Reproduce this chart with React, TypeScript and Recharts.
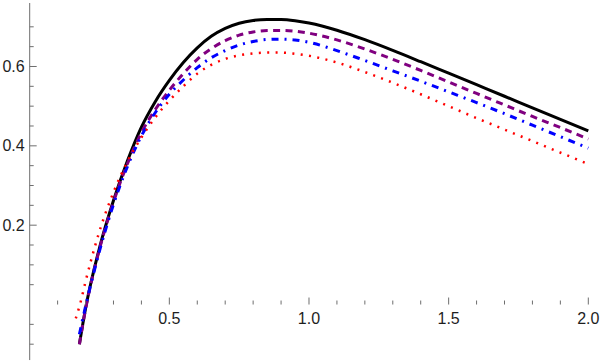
import React from "react";
import { LineChart, Line, XAxis, YAxis, ReferenceLine, ReferenceDot } from "recharts";

// ---- data ----
const blackX = [0.178, 0.2, 0.25, 0.3, 0.35, 0.4, 0.45, 0.5, 0.55, 0.6, 0.65, 0.7, 0.75, 0.8, 0.85, 0.9, 0.95, 1.0, 1.1, 1.2, 1.3, 1.4, 1.5, 1.6, 1.7, 1.8, 1.9, 2.0];
const blackY = [-0.1, -0.01, 0.143, 0.262, 0.362, 0.447, 0.512, 0.565, 0.61, 0.647, 0.676, 0.696, 0.709, 0.716, 0.7185, 0.7185, 0.7155, 0.7095, 0.6915, 0.6675, 0.6405, 0.612, 0.583, 0.554, 0.525, 0.4955, 0.4665, 0.4375];

const purpleX = [0.178, 0.2, 0.25, 0.3, 0.35, 0.4, 0.45, 0.5, 0.55, 0.6, 0.65, 0.7, 0.75, 0.8, 0.85, 0.9, 0.95, 1.0, 1.1, 1.2, 1.3, 1.4, 1.5, 1.6, 1.7, 1.8, 1.9, 2.0];
const purpleY = [-0.1, -0.012, 0.14, 0.258, 0.355, 0.433, 0.492, 0.54, 0.582, 0.618, 0.645, 0.665, 0.679, 0.687, 0.6905, 0.691, 0.689, 0.684, 0.667, 0.644, 0.618, 0.59, 0.561, 0.532, 0.503, 0.474, 0.446, 0.417];

const blueX = [0.178, 0.2, 0.25, 0.3, 0.35, 0.4, 0.45, 0.5, 0.55, 0.6, 0.65, 0.7, 0.75, 0.8, 0.85, 0.9, 0.95, 1.0, 1.1, 1.2, 1.3, 1.4, 1.5, 1.6, 1.7, 1.8, 1.9, 2.0];
const blueY = [-0.075, -0.005, 0.135, 0.252, 0.348, 0.425, 0.484, 0.53, 0.566, 0.597, 0.622, 0.64, 0.654, 0.663, 0.668, 0.669, 0.667, 0.661, 0.64, 0.615, 0.589, 0.563, 0.536, 0.509, 0.481, 0.452, 0.423, 0.394];

const redX = [0.165, 0.18, 0.2, 0.25, 0.3, 0.35, 0.4, 0.45, 0.5, 0.55, 0.6, 0.65, 0.7, 0.75, 0.8, 0.85, 0.9, 0.95, 1.0, 1.1, 1.2, 1.3, 1.4, 1.5, 1.6, 1.7, 1.8, 1.9, 2.0];
const redY = [-0.035, 0.0, 0.058, 0.185, 0.283, 0.36, 0.421, 0.472, 0.514, 0.55, 0.582, 0.604, 0.619, 0.628, 0.633, 0.635, 0.635, 0.632, 0.627, 0.61, 0.586, 0.559, 0.53, 0.5, 0.47, 0.441, 0.412, 0.383, 0.354];

const xMajorTicks = [0.5, 1.0, 1.5, 2.0];
const xMajorLabels = ["0.5", "1.0", "1.5", "2.0"];
const xMinorTicks = [0.1, 0.2, 0.3, 0.4, 0.6, 0.7, 0.8, 0.9, 1.1, 1.2, 1.3, 1.4, 1.6, 1.7, 1.8, 1.9];
const yMajorTicks = [0.2, 0.4, 0.6];
const yMajorLabels = ["0.2", "0.4", "0.6"];
const yMinorTicks = [-0.1, -0.05, 0.05, 0.1, 0.15, 0.25, 0.3, 0.35, 0.45, 0.5, 0.55, 0.65, 0.7];

const build = (xs: number[], ys: number[]) => xs.map((x, i) => ({ x, y: ys[i] }));

const AXIS = "#6e6e6e";
const TXT = "#1e1e1e";
const FONT = "Liberation Sans, Arial, sans-serif";

const xTick = (len: number, label?: string) => (p: any) => (
  <g>
    <line x1={p.cx} y1={p.cy} x2={p.cx} y2={p.cy - len} stroke={AXIS} strokeWidth={1} />
    {label ? (
      <text x={p.cx} y={p.cy + 19.5} textAnchor="middle" fontFamily={FONT} fontSize={16} fill={TXT}>
        {label}
      </text>
    ) : null}
  </g>
);

const yTick = (len: number, label?: string) => (p: any) => (
  <g>
    <line x1={p.cx} y1={p.cy} x2={p.cx + len} y2={p.cy} stroke={AXIS} strokeWidth={1} />
    {label ? (
      <text x={p.cx - 5} y={p.cy + 5.6} textAnchor="end" fontFamily={FONT} fontSize={16} fill={TXT}>
        {label}
      </text>
    ) : null}
  </g>
);

export default function App() {
  return (
    <div style={{ position: "fixed", left: 0, top: 0, width: 600, height: 362, background: "#fff" }}>
      <LineChart width={600} height={362} margin={{ top: 0, right: 0, bottom: 0, left: 0 }}>
        <XAxis type="number" dataKey="x" domain={[-0.1063, 2.0419]} allowDataOverflow hide />
        <YAxis type="number" dataKey="y" domain={[-0.1449, 0.7676]} allowDataOverflow hide />
        <ReferenceLine segment={[{ x: -0.041, y: 0 }, { x: 2.042, y: 0 }]} stroke={AXIS} strokeWidth={1} />
        <ReferenceLine segment={[{ x: 0, y: -0.14 }, { x: 0, y: 0.76 }]} stroke={AXIS} strokeWidth={1} />
        {xMinorTicks.map((t) => (
          <ReferenceDot key={"xm" + t} x={t} y={0} r={0} shape={xTick(4)} />
        ))}
        {xMajorTicks.map((t, i) => (
          <ReferenceDot key={"xM" + t} x={t} y={0} r={0} shape={xTick(7, xMajorLabels[i])} />
        ))}
        {yMinorTicks.map((t) => (
          <ReferenceDot key={"ym" + t} x={0} y={t} r={0} shape={yTick(4)} />
        ))}
        {yMajorTicks.map((t, i) => (
          <ReferenceDot key={"yM" + t} x={0} y={t} r={0} shape={yTick(7, yMajorLabels[i])} />
        ))}
        <Line data={build(blackX, blackY)} dataKey="y" type="monotone" stroke="#000000" strokeWidth={3} dot={false} activeDot={false} isAnimationActive={false} />
        <Line data={build(purpleX, purpleY)} dataKey="y" type="monotone" stroke="#800080" strokeWidth={3} strokeDasharray="7 5.4" dot={false} activeDot={false} isAnimationActive={false} />
        <Line data={build(blueX, blueY)} dataKey="y" type="monotone" stroke="#0000ff" strokeWidth={3} strokeDasharray="7 6 2 6" dot={false} activeDot={false} isAnimationActive={false} />
        <Line data={build(redX, redY)} dataKey="y" type="monotone" stroke="#ff0000" strokeWidth={2.5} strokeDasharray="2 6.4" dot={false} activeDot={false} isAnimationActive={false} />
      </LineChart>
    </div>
  );
}
